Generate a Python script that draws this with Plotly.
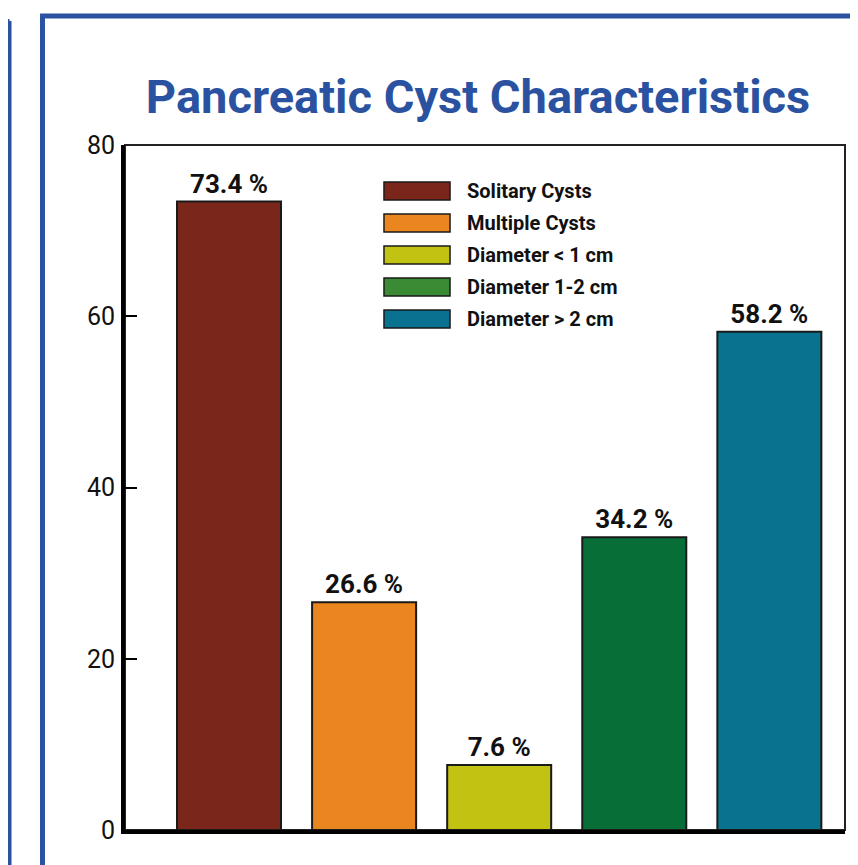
import plotly.graph_objects as go

# ── data ──────────────────────────────────────────────
categories = ["Solitary Cysts", "Multiple Cysts", "Diameter < 1 cm",
              "Diameter 1-2 cm", "Diameter > 2 cm"]
values = [73.4, 26.6, 7.6, 34.2, 58.2]
bar_colors = ["#7b261b", "#ea8620", "#c2c213", "#086e37", "#08728f"]
legend_colors = ["#7b261b", "#ea8620", "#c2c213", "#3b8b34", "#0b7191"]
y_ticks = [0, 20, 40, 60, 80]

BLUE = "#2b52a1"
FONT = "Roboto, Lato, sans-serif"

fig = go.Figure()
for i, (cat, val, col) in enumerate(zip(categories, values, bar_colors)):
    fig.add_trace(go.Bar(
        x=[i], y=[val], name=cat, width=0.77,
        marker=dict(color=col, line=dict(color="#1a1a1a", width=2)),
        text=[f"<b>{val} %</b>"], textposition="outside", cliponaxis=False,
        textfont=dict(family=FONT, size=26, color="#111111"),
        showlegend=False,
    ))

# ── hand-built legend (big swatches like the original) ────────────
leg_x0, leg_y0, row_h = 0.3597, 0.9328, 0.0467
for i, (cat, col) in enumerate(zip(categories, legend_colors)):
    yc = leg_y0 - i * row_h
    fig.add_shape(type="rect", xref="paper", yref="paper",
                  x0=leg_x0, x1=leg_x0 + 0.0917, y0=yc - 0.0131, y1=yc + 0.0131,
                  fillcolor=col, line=dict(color="#1a1a1a", width=1.5))
    fig.add_annotation(x=0.472, y=yc, xref="paper", yref="paper",
                       text=f"<b>{cat}</b>", showarrow=False,
                       xanchor="left", yanchor="middle",
                       font=dict(family=FONT, size=20, color="#111111"))

# thin top/right plot border
fig.add_shape(type="rect", xref="paper", yref="paper", x0=0, x1=1, y0=0, y1=1,
              line=dict(color="#222222", width=2), layer="below")

# blue panel frames
fig.add_shape(type="line", xref="paper", yref="paper", x0=-0.1146, x1=-0.1146,
              y0=1.1883, y1=-0.06, line=dict(color=BLUE, width=5))
fig.add_shape(type="line", xref="paper", yref="paper", x0=-0.118, x1=1.03,
              y0=1.1883, y1=1.1883, line=dict(color=BLUE, width=5))
fig.add_shape(type="line", xref="paper", yref="paper", x0=-0.1604, x1=-0.1604,
              y0=1.181, y1=-0.06, line=dict(color=BLUE, width=4))
fig.add_shape(type="line", xref="paper", yref="paper", x0=-0.17, x1=-0.1604,
              y0=1.181, y1=1.181, line=dict(color=BLUE, width=4))

fig.update_layout(
    width=850, height=857,
    margin=dict(l=117, r=13, t=137, b=35),
    paper_bgcolor="white", plot_bgcolor="white",
    title=dict(text="<b>Pancreatic Cyst Characteristics</b>",
               x=0.553, xanchor="center", y=0.897, yanchor="middle",
               font=dict(family=FONT, size=47, color=BLUE)),
    xaxis=dict(range=[-0.77, 4.56], showticklabels=False, ticks="",
               showgrid=False, zeroline=False,
               showline=True, linecolor="black", linewidth=4),
    yaxis=dict(range=[0, 80], tickvals=y_ticks, ticks="inside", ticklen=12,
               tickwidth=2, tickcolor="black", showgrid=False, zeroline=False,
               showline=True, linecolor="black", linewidth=4,
               ticklabelstandoff=1,
               tickfont=dict(family=FONT, size=25, color="#111111")),
)

fig.write_html("out.html")
